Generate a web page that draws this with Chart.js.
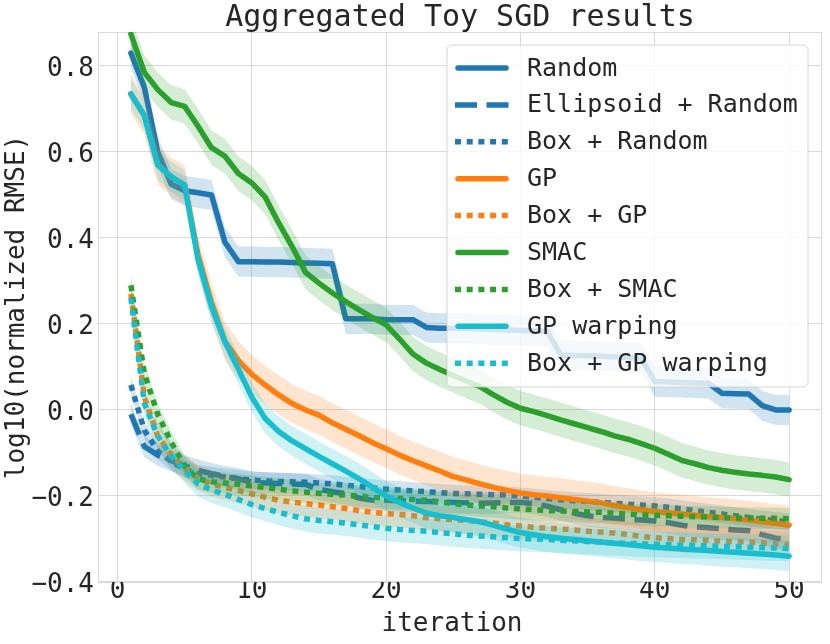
<!DOCTYPE html>
<html>
<head>
<meta charset="utf-8">
<script src="https://cdn.jsdelivr.net/npm/chart.js@4"></script>
<style>
  body { margin: 0; background: #ffffff; }
  #wrap { width: 830px; height: 644px; position: relative; }
</style>
</head>
<body>
<div id="wrap"><canvas id="chart"></canvas></div>
<script>
const iterations = [1, 2, 3, 4, 5, 6, 7, 8, 9, 10, 11, 12, 13, 14, 15, 16, 17, 18, 19, 20,
  21, 22, 23, 24, 25, 26, 27, 28, 29, 30, 31, 32, 33, 34, 35, 36, 37, 38, 39, 40,
  41, 42, 43, 44, 45, 46, 47, 48, 49, 50];

const xTicks = [0, 10, 20, 30, 40, 50];
const yTicks = [-0.4, -0.2, 0.0, 0.2, 0.4, 0.6, 0.8];

const randomVals = [0.83, 0.75, 0.6, 0.525, 0.51, 0.505, 0.5, 0.39, 0.345, 0.345,
  0.344, 0.344, 0.343, 0.342, 0.341, 0.34, 0.212, 0.212, 0.212, 0.21,
  0.21, 0.21, 0.192, 0.19, 0.19, 0.19, 0.188, 0.187, 0.186, 0.185,
  0.184, 0.183, 0.128, 0.127, 0.126, 0.125, 0.124, 0.122, 0.12, 0.066,
  0.065, 0.064, 0.063, 0.062, 0.039, 0.038, 0.037, 0.01, 0.0, 0.0];

const ellipsoidRandomVals = [-0.01, -0.085, -0.105, -0.118, -0.13, -0.14, -0.148, -0.155, -0.16, -0.168,
  -0.17, -0.171, -0.172, -0.173, -0.185, -0.19, -0.195, -0.205, -0.21, -0.21,
  -0.211, -0.212, -0.213, -0.214, -0.215, -0.216, -0.217, -0.216, -0.215, -0.215,
  -0.218, -0.224, -0.232, -0.24, -0.246, -0.25, -0.252, -0.254, -0.256, -0.258,
  -0.262, -0.268, -0.272, -0.274, -0.277, -0.279, -0.281, -0.29, -0.298, -0.3];

const boxRandomVals = [0.058, -0.047, -0.095, -0.12, -0.138, -0.148, -0.152, -0.156, -0.16, -0.163,
  -0.165, -0.166, -0.167, -0.168, -0.17, -0.172, -0.175, -0.178, -0.181, -0.184,
  -0.186, -0.188, -0.19, -0.192, -0.194, -0.195, -0.196, -0.197, -0.198, -0.2,
  -0.203, -0.206, -0.209, -0.211, -0.213, -0.215, -0.217, -0.219, -0.221, -0.223,
  -0.226, -0.23, -0.234, -0.238, -0.242, -0.246, -0.25, -0.254, -0.257, -0.26];

const gpVals = [0.735, 0.685, 0.57, 0.542, 0.523, 0.36, 0.25, 0.16, 0.115, 0.083,
  0.058, 0.035, 0.015, 0.0, -0.012, -0.03, -0.045, -0.06, -0.076, -0.09,
  -0.105, -0.118, -0.13, -0.142, -0.155, -0.163, -0.172, -0.18, -0.187, -0.193,
  -0.197, -0.2, -0.204, -0.208, -0.212, -0.216, -0.222, -0.227, -0.232, -0.236,
  -0.239, -0.242, -0.245, -0.248, -0.25, -0.253, -0.256, -0.26, -0.264, -0.268];

const boxGpVals = [0.27, 0.03, -0.06, -0.105, -0.135, -0.158, -0.172, -0.18, -0.187, -0.195,
  -0.203, -0.21, -0.214, -0.218, -0.221, -0.225, -0.229, -0.234, -0.238, -0.241,
  -0.243, -0.246, -0.25, -0.253, -0.255, -0.257, -0.26, -0.263, -0.267, -0.27,
  -0.273, -0.275, -0.277, -0.279, -0.282, -0.284, -0.286, -0.29, -0.294, -0.297,
  -0.299, -0.301, -0.302, -0.303, -0.305, -0.306, -0.307, -0.309, -0.311, -0.313];

const smacVals = [0.874, 0.785, 0.745, 0.715, 0.706, 0.66, 0.61, 0.59, 0.55, 0.528,
  0.495, 0.435, 0.38, 0.32, 0.295, 0.272, 0.252, 0.233, 0.215, 0.198,
  0.165, 0.13, 0.109, 0.094, 0.08, 0.067, 0.054, 0.035, 0.018, 0.004,
  -0.004, -0.013, -0.023, -0.032, -0.041, -0.05, -0.06, -0.068, -0.078, -0.089,
  -0.103, -0.117, -0.125, -0.134, -0.14, -0.145, -0.149, -0.152, -0.156, -0.162];

const boxSmacVals = [0.29, 0.085, -0.01, -0.075, -0.13, -0.16, -0.167, -0.17, -0.173, -0.177,
  -0.18, -0.184, -0.188, -0.191, -0.194, -0.196, -0.198, -0.2, -0.203, -0.205,
  -0.206, -0.208, -0.21, -0.214, -0.218, -0.221, -0.223, -0.225, -0.228, -0.23,
  -0.232, -0.234, -0.235, -0.236, -0.237, -0.238, -0.24, -0.242, -0.244, -0.245,
  -0.246, -0.247, -0.248, -0.249, -0.25, -0.251, -0.251, -0.252, -0.252, -0.253];

const gpWarpingVals = [0.735, 0.685, 0.57, 0.542, 0.523, 0.35, 0.24, 0.158, 0.095, 0.03,
  -0.02, -0.05, -0.072, -0.09, -0.108, -0.125, -0.142, -0.16, -0.18, -0.2,
  -0.215, -0.228, -0.24, -0.246, -0.25, -0.255, -0.26, -0.268, -0.277, -0.285,
  -0.29, -0.295, -0.298, -0.301, -0.304, -0.307, -0.31, -0.313, -0.316, -0.319,
  -0.321, -0.323, -0.325, -0.327, -0.329, -0.331, -0.333, -0.335, -0.337, -0.34];

const boxGpWarpingVals = [0.26, 0.015, -0.06, -0.108, -0.14, -0.172, -0.186, -0.196, -0.208, -0.22,
  -0.229, -0.238, -0.246, -0.253, -0.257, -0.26, -0.263, -0.267, -0.271, -0.275,
  -0.278, -0.28, -0.282, -0.285, -0.288, -0.291, -0.293, -0.295, -0.297, -0.299,
  -0.3, -0.301, -0.303, -0.304, -0.306, -0.307, -0.309, -0.31, -0.311, -0.312,
  -0.313, -0.314, -0.315, -0.316, -0.317, -0.318, -0.319, -0.32, -0.321, -0.322];

// half-width of the shaded band for each series
const bandSpread = [0.035, 0.025, 0.02, 0.045, 0.03, 0.04, 0.025, 0.035, 0.03];

const seriesLabels = ['Random', 'Ellipsoid + Random', 'Box + Random', 'GP', 'Box + GP',
  'SMAC', 'Box + SMAC', 'GP warping', 'Box + GP warping'];
const seriesValues = [randomVals, ellipsoidRandomVals, boxRandomVals, gpVals, boxGpVals,
  smacVals, boxSmacVals, gpWarpingVals, boxGpWarpingVals];

const BLUE = '31,119,180', ORANGE = '255,127,14', GREEN = '44,160,44', CYAN = '23,190,207';
const seriesColors = [BLUE, BLUE, BLUE, ORANGE, ORANGE, GREEN, GREEN, CYAN, CYAN];
const DOTTED = [6, 5.7], DASHED = [22, 9.5];
const seriesDash = [[], DASHED, DOTTED, [], DOTTED, [], DOTTED, [], DOTTED];

const FONT = "'DejaVu Sans Mono', monospace";
const TEXT = '#262626';
const GRID = '#dadada';
const LW = 5.5;

const datasets = [];
const n = seriesLabels.length;
seriesLabels.forEach((label, i) => {
    const vals = seriesValues[i];
    const s = bandSpread[i];
    const ord = (n - i) * 3;
    datasets.push({
        label: '_up' + i,
        data: iterations.map((x, k) => ({ x: x, y: vals[k] + s })),
        borderWidth: 0, pointRadius: 0, fill: false, order: ord
    });
    datasets.push({
        label: '_lo' + i,
        data: iterations.map((x, k) => ({ x: x, y: vals[k] - s })),
        borderWidth: 0, pointRadius: 0,
        fill: '-1', backgroundColor: 'rgba(' + seriesColors[i] + ',0.2)', order: ord - 1
    });
    const solid = seriesDash[i].length === 0;
    datasets.push({
        label: label,
        data: iterations.map((x, k) => ({ x: x, y: vals[k] })),
        borderColor: 'rgb(' + seriesColors[i] + ')',
        borderWidth: LW,
        borderDash: seriesDash[i],
        borderCapStyle: solid ? 'round' : 'butt',
        borderJoinStyle: 'round',
        pointRadius: 0, fill: false, tension: 0, order: ord - 2
    });
});

const decorPlugin = {
    id: 'decor',
    afterDraw(chart) {
        const ctx = chart.ctx;
        const a = chart.chartArea;
        ctx.save();
        // title
        ctx.fillStyle = TEXT;
        ctx.font = '30px ' + FONT;
        ctx.textAlign = 'center';
        ctx.textBaseline = 'middle';
        ctx.fillText('Aggregated Toy SGD results', (a.left + a.right) / 2, 18);
        // axis titles
        ctx.font = '26px ' + FONT;
        ctx.fillText('iteration', (a.left + a.right) / 2 - 8, 624);
        ctx.save();
        ctx.translate(17, (a.top + a.bottom) / 2);
        ctx.rotate(-Math.PI / 2);
        ctx.fillText('log10(normalized RMSE)', 0, 0);
        ctx.restore();

        // legend
        const lx = 447, ly = 45, lw = 361, lh = 342;
        ctx.beginPath();
        ctx.roundRect(lx, ly, lw, lh, 5);
        ctx.fillStyle = 'rgba(255,255,255,0.8)';
        ctx.fill();
        ctx.strokeStyle = 'rgba(204,204,204,0.8)';
        ctx.lineWidth = 1;
        ctx.stroke();
        ctx.font = '25px ' + FONT;
        ctx.textAlign = 'left';
        seriesLabels.forEach((label, i) => {
            const y = 68 + i * 36.9;
            const solid = seriesDash[i].length === 0;
            ctx.beginPath();
            ctx.strokeStyle = 'rgb(' + seriesColors[i] + ')';
            ctx.lineWidth = LW;
            ctx.lineCap = solid ? 'round' : 'butt';
            ctx.setLineDash(seriesDash[i]);
            ctx.moveTo(solid ? 458 : 455, y);
            ctx.lineTo(solid ? 506 : 509, y);
            ctx.stroke();
            ctx.setLineDash([]);
            ctx.fillStyle = TEXT;
            ctx.fillText(label, 527, y + 1);
        });
        ctx.restore();
    },
    beforeDatasetsDraw(chart) {
        const ctx = chart.ctx;
        const a = chart.chartArea;
        ctx.save();
        ctx.strokeStyle = GRID;
        ctx.lineWidth = 1;
        ctx.strokeRect(a.left + 0.5, a.top + 0.5, a.right - a.left - 1, a.bottom - a.top - 1);
        ctx.restore();
    }
};

new Chart(document.getElementById('chart'), {
    type: 'line',
    data: { datasets: datasets },
    options: {
        responsive: true,
        maintainAspectRatio: false,
        animation: false,
        layout: { padding: { top: 32, right: 8, left: 0, bottom: 0 } },
        plugins: {
            legend: { display: false },
            title: { display: false },
            tooltip: { enabled: false }
        },
        scales: {
            x: {
                type: 'linear',
                min: -1.45,
                max: 52.45,
                afterBuildTicks: (scale) => { scale.ticks = xTicks.map(v => ({ value: v })); },
                afterFit: (scale) => { scale.height = 62; },
                grid: { color: GRID, drawTicks: false },
                border: { display: false },
                ticks: {
                    color: TEXT,
                    font: { family: FONT, size: 26 },
                    padding: -6,
                    maxRotation: 0,
                    callback: (v) => String(v)
                }
            },
            y: {
                type: 'linear',
                min: -0.4,
                max: 0.879,
                afterBuildTicks: (scale) => { scale.ticks = yTicks.map(v => ({ value: v })); },
                afterFit: (scale) => { scale.width = 98; },
                grid: { color: GRID, drawTicks: false },
                border: { display: false },
                ticks: {
                    color: TEXT,
                    font: { family: FONT, size: 26 },
                    padding: 4,
                    labelOffset: 3,
                    callback: (v) => (v < 0 ? '\u2212' : '') + Math.abs(v).toFixed(1)
                }
            }
        }
    },
    plugins: [decorPlugin]
});
</script>
</body>
</html>
